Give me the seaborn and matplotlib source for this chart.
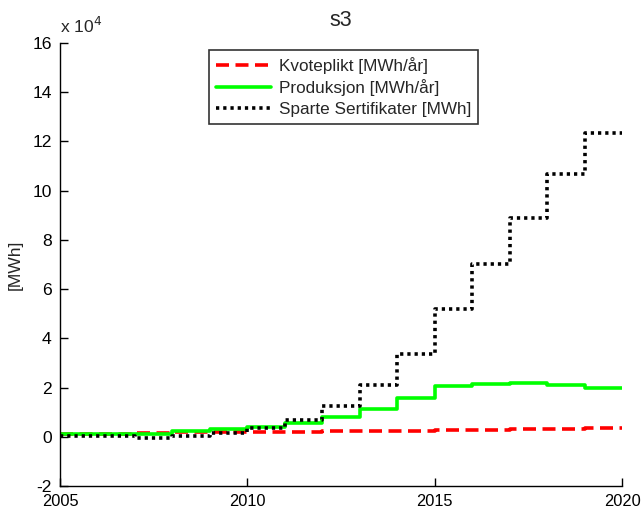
import matplotlib
matplotlib.use("Agg")
import matplotlib.pyplot as plt
from matplotlib.ticker import FuncFormatter, FixedLocator
import numpy as np
import pandas as pd
import seaborn as sns

# Yearly values (step held from each year to the next), MWh
years = [2005, 2006, 2007, 2008, 2009, 2010, 2011, 2012, 2013, 2014,
         2015, 2016, 2017, 2018, 2019, 2020]
kvoteplikt = [1200, 1200, 1700, 1750, 1900, 2000, 2100, 2200, 2400, 2500,
              2700, 2900, 3100, 3300, 3500, 3500]
produksjon = [1300, 1300, 1300, 2300, 3300, 4000, 5800, 8000, 11200, 15600,
              20500, 21400, 21900, 21100, 20000, 20000]
sparte = [200, 200, -300, 500, 1700, 3400, 6800, 12700, 21000, 33800,
          51800, 70300, 88900, 106900, 123300, 123300]

labels = ["Kvoteplikt [MWh/år]", "Produksjon [MWh/år]",
          "Sparte Sertifikater [MWh]"]
yticks = [-2, 0, 2, 4, 6, 8, 10, 12, 14, 16]
xticks = [2005, 2010, 2015, 2020]

sns.set_style("white")
plt.rcParams["font.family"] = ["Liberation Sans", "DejaVu Sans"]

fig = plt.figure(figsize=(6.42, 5.09), dpi=100)
ax = fig.add_axes([60 / 642, 23 / 509, 562 / 642, 443 / 509])

styles = [
    dict(color="#ff0000", linestyle=(0, (3.6, 1.8)), lw=2.6),
    dict(color="#00ff00", linestyle="-", lw=2.6),
    dict(color="#000000", linestyle=(0, (0.9, 1.1)), lw=2.6),
]
for series, lab, st in zip([kvoteplikt, produksjon, sparte], labels, styles):
    sns.lineplot(x=years, y=series, ax=ax, drawstyle="steps-post",
                 label=lab, **st)

ax.set_xlim(2005, 2020)
ax.set_ylim(-2e4, 16e4)
ax.xaxis.set_major_locator(FixedLocator(xticks))
ax.yaxis.set_major_locator(FixedLocator([v * 1e4 for v in yticks]))
ax.yaxis.set_major_formatter(FuncFormatter(lambda v, p: f"{v / 1e4:g}"))

for side in ["top", "right"]:
    ax.spines[side].set_visible(False)
for side in ["left", "bottom"]:
    ax.spines[side].set_color("black")
    ax.spines[side].set_linewidth(1.0)
ax.tick_params(direction="in", length=6, width=1.0, colors="black",
               labelsize=12.6, left=True, bottom=True)
ax.tick_params(axis="x", pad=6, labelsize=11.8)
ax.tick_params(axis="y", pad=6)

ax.set_ylabel("[MWh]", fontsize=12.6, labelpad=7)
ax.set_title("s3", fontsize=15.5, pad=12)
ax.text(0.0, 1.015, r"x 10$^{4}$", transform=ax.transAxes, fontsize=12.6,
        ha="left", va="bottom")

leg = ax.legend(loc="upper left", bbox_to_anchor=(149 / 562, 1 - 7 / 443),
                fontsize=12.3, frameon=True, fancybox=False,
                handlelength=3.2, borderpad=0.4, labelspacing=0.33,
                handletextpad=0.5, borderaxespad=0)
leg.get_frame().set_edgecolor("black")
leg.get_frame().set_linewidth(1.2)

fig.savefig("out.png", dpi=100)
